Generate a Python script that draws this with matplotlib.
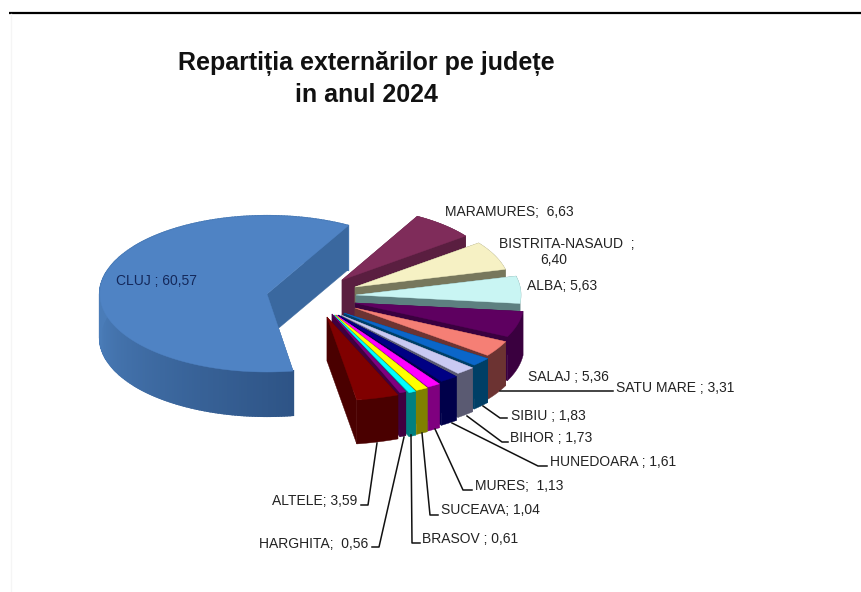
import numpy as np
import matplotlib
matplotlib.use("Agg")
import matplotlib.pyplot as plt
from matplotlib.colors import to_rgb

# valori
judete = ["CLUJ ;", "MARAMURES; ", "BISTRITA-NASAUD  ;", "ALBA;", "SALAJ ;", "SATU MARE ;",
          "SIBIU ;", "BIHOR ;", "HUNEDOARA ;", "MURES; ", "SUCEAVA;", "BRASOV ;",
          "HARGHITA; ", "ALTELE;"]
valori = [60.57, 6.63, 6.40, 5.63, 5.36, 3.31, 1.83, 1.73, 1.61, 1.13, 1.04, 0.61, 0.56, 3.59]

# culori: fata de sus, taietura, perete
culori_sus = ["#4f83c4", "#7f2c5a", "#f6f1c4", "#c9f5f3", "#5e0060", "#f57f75", "#0b66c9",
              "#c9c9f2", "#000084", "#ff00ff", "#ffff00", "#00ffff", "#800080", "#800000"]
culori_lat = ["#3a689f", "#5a1e40", "#77775c", "#5d8080", "#3a003f", "#6c3332", "#003f66",
              "#5a5a72", "#00004a", "#7f007f", "#808000", "#008080", "#400040", "#4a0000"]

# geometrie pe felie (pixeli): varf, raze (felii explodate, cu perspectiva)
varf_x = [267, 342, 355, 356, 355, 355, 344, 341, 338, 336, 335, 334, 332, 327]
varf_y = [294, 280, 287, 295, 303, 308, 313, 315, 315, 315, 315, 315, 314, 317]
raza_x = [167, 155, 155, 165, 169, 167, 181, 183, 185, 185, 185, 185, 182, 190]
raza_y = [78, 73, 73, 78, 78, 78, 75, 76, 80, 83, 84, 85, 85, 84]
adancime = 44
unghi_start = 171

# etichete: pozitie text (pixeli), aliniere
etich_x = [116, 445, 567, 527, 528, 616, 511, 510, 550, 475, 441, 422, 368, 357]
etich_y = [281, 212, 244, 286, 377, 388, 416, 438, 462, 486, 510, 539, 544, 501]
etich_ha = ["left", "left", "center", "left", "left", "left", "left", "left", "left", "left",
            "left", "left", "right", "right"]

# linii de legatura (pixeli), None unde nu exista
linii = [None, None, None, None, None,
         [(500, 391), (613, 391)],
         [(483, 406), (500, 418), (507, 418)],
         [(467, 416), (502, 442), (508, 442)],
         [(452, 423), (538, 466), (547, 466)],
         [(435, 429), (463, 490), (472, 490)],
         [(422, 433), (430, 515), (438, 515)],
         [(411, 435), (412, 543), (420, 543)],
         [(404, 437), (379, 547), (372, 547)],
         [(377, 443), (368, 505), (361, 505)]]


def punct(i, t, dz=0):
    t = np.radians(t)
    return varf_x[i] + raza_x[i] * np.sin(t), varf_y[i] - raza_y[i] * np.cos(t) + dz


def felie(ax, i, a, b):
    ts = np.arange(a, b, 1.0).tolist() + [b]
    xs, ys = punct(i, np.array(ts))
    lat = culori_lat[i]

    # taietura de la inceput (in spate)
    xa, ya = punct(i, a)
    ax.fill([varf_x[i], xa, xa, varf_x[i]],
            [varf_y[i], ya, ya + adancime, varf_y[i] + adancime], color=lat, lw=0.3, zorder=2 + i)

    # peretele exterior, cu gradient doar la Cluj
    if i == 0:
        for k in range(len(ts) - 1):
            f = np.clip((ts[k] - unghi_start) / 95.0, 0, 1)
            c = np.array(to_rgb("#2e5486")) * (1 - f) + np.array(to_rgb("#4a7cb8")) * f
            ax.fill([xs[k], xs[k + 1], xs[k + 1], xs[k]],
                    [ys[k], ys[k + 1], ys[k + 1] + adancime, ys[k] + adancime],
                    color=c, lw=1.5, zorder=2 + i)
    else:
        ax.fill(list(xs) + list(xs[::-1]), list(ys) + list(ys[::-1] + adancime),
                color=lat, lw=0.3, zorder=2 + i)

    # taietura de la sfarsit (vizibila)
    xb, yb = punct(i, b)
    ax.fill([varf_x[i], xb, xb, varf_x[i]],
            [varf_y[i], yb, yb + adancime, varf_y[i] + adancime], color=lat, lw=0.3, zorder=2 + i)

    # fata de sus
    ax.fill([varf_x[i]] + list(xs), [varf_y[i]] + list(ys), color=culori_sus[i], lw=0.3, zorder=2 + i)


plt.rcParams['font.family'] = ['Liberation Sans', 'DejaVu Sans']
fig = plt.figure(figsize=(8.61, 5.92), dpi=100)
ax = fig.add_axes([0, 0, 1, 1])
ax.set_xlim(0, 861)
ax.set_ylim(592, 0)
ax.axis("off")

# linia de sus si marginea stanga
ax.plot([9, 861], [13, 13], color="black", lw=1.6, zorder=1, solid_capstyle="butt")
ax.plot([10.5, 10.5], [14, 592], color="#f5f5f5", lw=1, zorder=1)

unghi = unghi_start
for i, v in enumerate(valori):
    pas = v * 3.6
    felie(ax, i, unghi, unghi + pas)
    unghi += pas

for i, (nume, v) in enumerate(zip(judete, valori)):
    val = f"{v:.2f}".replace(".", ",")
    culoare = "#14285a" if i == 0 else "#222222"
    if "BISTRITA" in nume:
        ax.text(etich_x[i], etich_y[i], nume, ha="center", va="center", fontsize=10, color=culoare, zorder=40)
        ax.text(554, etich_y[i] + 16, val, ha="center", va="center", fontsize=10, color=culoare, zorder=40)
    else:
        ax.text(etich_x[i], etich_y[i], nume + " " + val, ha=etich_ha[i], va="center", fontsize=10,
                color=culoare, zorder=40)
    if linii[i] is not None:
        ax.plot([p[0] for p in linii[i]], [p[1] for p in linii[i]], color="#111111", lw=1.1, zorder=30)

ax.text(366, 64, "Repartiția externărilor pe județe", ha="center", va="center",
        fontsize=18, fontweight="bold", color="#111111", zorder=40)
ax.text(366, 95, "in anul 2024", ha="center", va="center",
        fontsize=18, fontweight="bold", color="#111111", zorder=40)

fig.savefig("out.png", dpi=100)
